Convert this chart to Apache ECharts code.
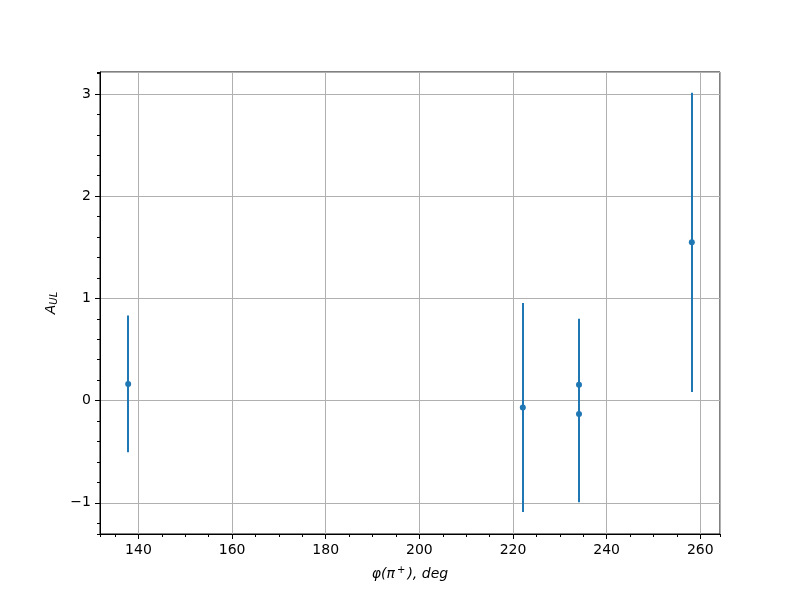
<!DOCTYPE html>
<html>
<head>
<meta charset="utf-8">
<script src="https://cdn.jsdelivr.net/npm/echarts@6/dist/echarts.min.js"></script>
<style>html,body{margin:0;padding:0;background:#fff}#c{width:800px;height:600px}</style>
</head>
<body>
<div id="c"></div>
<script>
var phi = [137.8, 222.1, 234.1, 234.1, 258.2];
var aul = [0.163, -0.067, 0.154, -0.130, 1.549];
var err = [0.669, 1.022, 0.646, 0.865, 1.464];

var pts = phi.map(function (x, i) { return [x, aul[i]]; });
var bars = phi.map(function (x, i) { return [x, aul[i] - err[i], aul[i] + err[i]]; });

var font = 'DejaVu Sans';
function fmt(v) { return v < 0 ? '\u2212' + Math.abs(v) : String(v); }

var chart = echarts.init(document.getElementById('c'), null, {renderer: 'canvas'});
chart.setOption({
  animation: false,
  backgroundColor: '#fff',
  grid: {left: 100, right: 80, top: 72, bottom: 66, show: true, borderColor: '#000', borderWidth: 1, backgroundColor: 'transparent'},
  xAxis: [{
    type: 'value', min: 131.78, max: 264.22, minInterval: 20, maxInterval: 20,
    name: '{a|φ(π}{s|+}{a|), deg}', nameLocation: 'middle', nameGap: 31,
    nameTextStyle: {fontFamily: font, color: '#000',
      rich: {a: {fontFamily: font, fontSize: 14, fontStyle: 'italic', color: '#000', verticalAlign: 'bottom'},
             s: {fontFamily: font, fontSize: 10, color: '#000', verticalAlign: 'top', padding: [0, 2, 6, 2]}}},
    axisLine: {show: true, onZero: false, lineStyle: {color: '#000', width: 1}},
    axisTick: {show: true, length: 5, lineStyle: {color: '#000', width: 1}},
    axisLabel: {margin: 9, fontFamily: font, fontSize: 14, color: '#000', showMinLabel: false, showMaxLabel: false, formatter: fmt},
    splitLine: {show: true, lineStyle: {color: '#b0b0b0', width: 1}}
  }, {
    type: 'value', min: 131.78, max: 264.22, minInterval: 5, maxInterval: 5, position: 'bottom',
    axisLine: {show: false, onZero: false}, axisLabel: {show: false}, splitLine: {show: false},
    axisTick: {show: true, length: 3, lineStyle: {color: '#000', width: 1}}
  }],
  yAxis: [{
    type: 'value', min: -1.305, max: 3.215, minInterval: 1, maxInterval: 1,
    name: '{a|A}{s|UL}', nameLocation: 'middle', nameGap: 38,
    nameTextStyle: {fontFamily: font, color: '#000',
      rich: {a: {fontFamily: font, fontSize: 14, fontStyle: 'italic', color: '#000'},
             s: {fontFamily: font, fontSize: 10, fontStyle: 'italic', color: '#000', verticalAlign: 'bottom', padding: [6, 0, 0, 0]}}},
    axisLine: {show: true, onZero: false, lineStyle: {color: '#000', width: 1}},
    axisTick: {show: true, length: 5, lineStyle: {color: '#000', width: 1}},
    axisLabel: {margin: 9, fontFamily: font, fontSize: 14, color: '#000', showMinLabel: false, showMaxLabel: false, formatter: fmt},
    splitLine: {show: true, lineStyle: {color: '#b0b0b0', width: 1}}
  }, {
    type: 'value', min: -1.305, max: 3.215, minInterval: 0.2, maxInterval: 0.2, position: 'left',
    axisLine: {show: false, onZero: false}, axisLabel: {show: false}, splitLine: {show: false},
    axisTick: {show: true, length: 3, lineStyle: {color: '#000', width: 1}}
  }],
  series: [{
    type: 'custom', xAxisIndex: 0, yAxisIndex: 0, data: bars, z: 2,
    renderItem: function (params, api) {
      var p1 = api.coord([api.value(0), api.value(1)]);
      var p2 = api.coord([api.value(0), api.value(2)]);
      var x = Math.round(p1[0]);
      return {type: 'line', shape: {x1: x, y1: p1[1], x2: x, y2: p2[1]},
              style: {stroke: '#1f77b4', lineWidth: 2}};
    }
  }, {
    type: 'scatter', xAxisIndex: 0, yAxisIndex: 0, data: pts, symbol: 'circle', symbolSize: 6, z: 3,
    itemStyle: {color: '#1f77b4', opacity: 1}
  }]
});
</script>
</body>
</html>
